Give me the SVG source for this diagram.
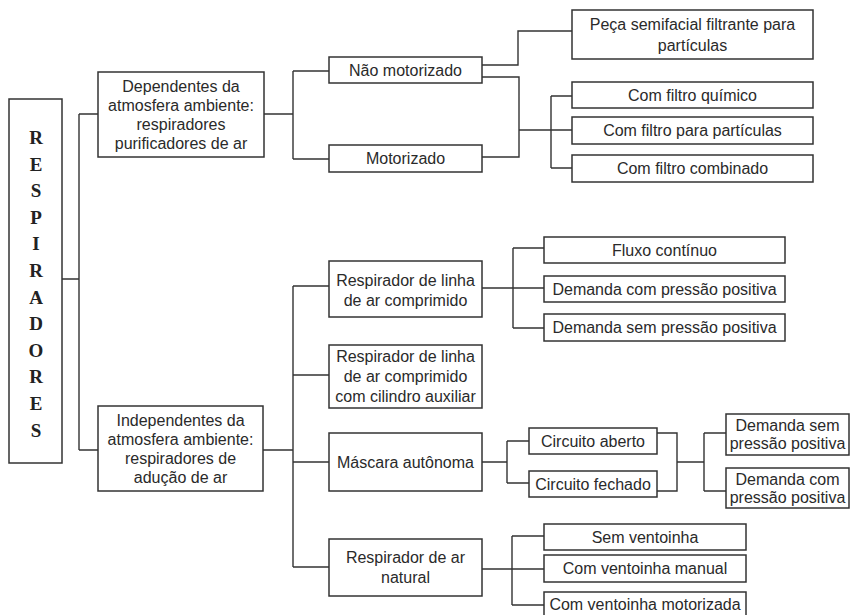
<svg xmlns="http://www.w3.org/2000/svg" width="850" height="615" viewBox="0 0 850 615">
<style>
rect{fill:#fff;stroke:#333;stroke-width:1.5}
text{font-family:"Liberation Sans",Arial,sans-serif;font-size:16px;fill:#2a2a2a;text-anchor:middle}
.t{font-family:"Liberation Serif","Times New Roman",serif;font-weight:bold;font-size:19px;fill:#222}
#connectors path{fill:none;stroke:#333;stroke-width:1.4}
</style>
<rect x="0" y="0" width="850" height="615" style="stroke:none"/>
<g id="connectors">
<path d="M62,279 H79 M79,114 V450 M79,114 H98 M79,450 H98"/>
<path d="M264,114 H293 M293,71 V159 M293,71 H329 M293,159 H329"/>
<path d="M482,65 H518 V31 H572"/>
<path d="M482,77 H519 V157 H482 M519,130 H572 M551,96 V168 M551,96 H572 M551,168 H572"/>
<path d="M263,450 H293 M293,286 V567 M293,286 H329 M293,375 H329 M293,462 H329 M293,567 H329"/>
<path d="M482,288 H513 M513,248 V328 M513,248 H544 M513,288 H544 M513,328 H544"/>
<path d="M482,462 H507 M507,441 V483 M507,441 H529 M507,483 H529"/>
<path d="M657,433 H677 V491 H657 M677,462 H704 M704,433 V491 M704,433 H726 M704,491 H726"/>
<path d="M482,569 H512 M512,536 V605 M512,536 H544 M512,569 H544 M512,605 H544"/>
</g>
<g id="root">
<rect x="9" y="99" width="53" height="364"/>
<text class="t" x="36" y="144">R</text>
<text class="t" x="36" y="170.6">E</text>
<text class="t" x="36" y="197.2">S</text>
<text class="t" x="36" y="223.8">P</text>
<text class="t" x="36" y="250.4">I</text>
<text class="t" x="36" y="277">R</text>
<text class="t" x="36" y="303.6">A</text>
<text class="t" x="36" y="330.2">D</text>
<text class="t" x="36" y="356.8">O</text>
<text class="t" x="36" y="383.4">R</text>
<text class="t" x="36" y="410">E</text>
<text class="t" x="36" y="436.6">S</text>
</g>
<g id="dependentes">
<rect x="98" y="72" width="166" height="85"/>
<text x="181" y="92">Dependentes da</text>
<text x="181" y="111">atmosfera ambiente:</text>
<text x="181" y="130">respiradores</text>
<text x="181" y="149">purificadores de ar</text>
</g>
<g id="independentes">
<rect x="98" y="406" width="165" height="85"/>
<text x="180.5" y="426">Independentes da</text>
<text x="180.5" y="445">atmosfera ambiente:</text>
<text x="180.5" y="464">respiradores de</text>
<text x="180.5" y="483">adução de ar</text>
</g>
<g id="nao-motorizado">
<rect x="329" y="57" width="153" height="26"/>
<text x="405.5" y="75.5">Não motorizado</text>
</g>
<g id="motorizado">
<rect x="329" y="145" width="153" height="27"/>
<text x="405.5" y="164">Motorizado</text>
</g>
<g id="peca">
<rect x="572" y="10" width="241" height="49"/>
<text x="692.5" y="30">Peça semifacial filtrante para</text>
<text x="692.5" y="51">partículas</text>
</g>
<g id="filtro-quimico">
<rect x="572" y="82" width="241" height="26"/>
<text x="692.5" y="100.5">Com filtro químico</text>
</g>
<g id="filtro-particulas">
<rect x="572" y="117" width="241" height="27"/>
<text x="692.5" y="136">Com filtro para partículas</text>
</g>
<g id="filtro-combinado">
<rect x="572" y="155" width="241" height="27"/>
<text x="692.5" y="174">Com filtro combinado</text>
</g>
<g id="linha-ar">
<rect x="329" y="261" width="153" height="56"/>
<text x="405.5" y="286">Respirador de linha</text>
<text x="405.5" y="306">de ar comprimido</text>
</g>
<g id="linha-cilindro">
<rect x="329" y="345" width="153" height="63"/>
<text x="405.5" y="362">Respirador de linha</text>
<text x="405.5" y="382">de ar comprimido</text>
<text x="405.5" y="402">com cilindro auxiliar</text>
</g>
<g id="mascara">
<rect x="329" y="433" width="153" height="58"/>
<text x="405.5" y="467.5">Máscara autônoma</text>
</g>
<g id="ar-natural">
<rect x="329" y="539" width="153" height="57"/>
<text x="405.5" y="563">Respirador de ar</text>
<text x="405.5" y="583">natural</text>
</g>
<g id="fluxo">
<rect x="544" y="237" width="241" height="26"/>
<text x="664.5" y="255.5">Fluxo contínuo</text>
</g>
<g id="dem-com">
<rect x="544" y="276" width="241" height="26"/>
<text x="664.5" y="294.5">Demanda com pressão positiva</text>
</g>
<g id="dem-sem">
<rect x="544" y="314" width="241" height="27"/>
<text x="664.5" y="333">Demanda sem pressão positiva</text>
</g>
<g id="aberto">
<rect x="529" y="428" width="128" height="26"/>
<text x="593" y="446.5">Circuito aberto</text>
</g>
<g id="fechado">
<rect x="529" y="471" width="128" height="26"/>
<text x="593" y="489.5">Circuito fechado</text>
</g>
<g id="dem-sem-2">
<rect x="726" y="414" width="123" height="41"/>
<text x="787.5" y="431">Demanda sem</text>
<text x="787.5" y="449">pressão positiva</text>
</g>
<g id="dem-com-2">
<rect x="726" y="468" width="123" height="40"/>
<text x="787.5" y="485">Demanda com</text>
<text x="787.5" y="503">pressão positiva</text>
</g>
<g id="sem-vent">
<rect x="544" y="524" width="202" height="26"/>
<text x="645" y="542.5">Sem ventoinha</text>
</g>
<g id="vent-manual">
<rect x="544" y="555" width="202" height="27"/>
<text x="645" y="574">Com ventoinha manual</text>
</g>
<g id="vent-motor">
<rect x="544" y="592" width="202" height="33"/>
<text x="645" y="610">Com ventoinha motorizada</text>
</g>
</svg>
